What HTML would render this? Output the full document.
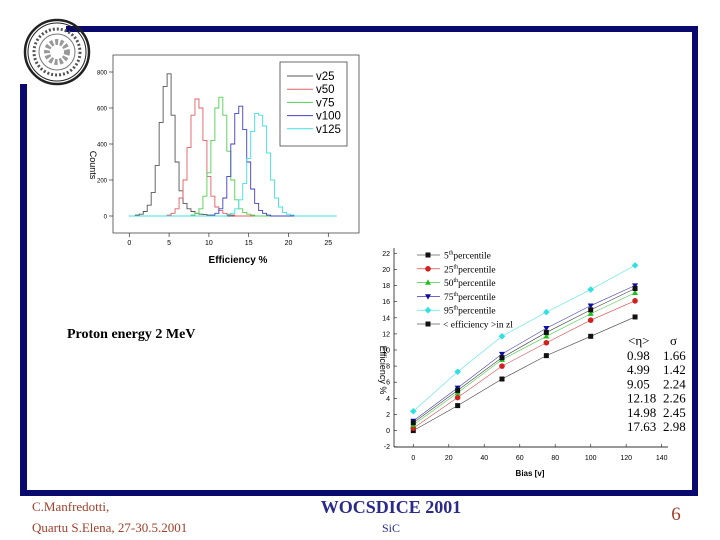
<!DOCTYPE html>
<html><head><meta charset="utf-8"><style>
body{margin:0;background:#fff;}
svg{display:block;font-family:"Liberation Sans",sans-serif;}
.serif{font-family:"Liberation Serif",serif;}
</style></head><body>
<svg id="s" width="720" height="540" viewBox="0 0 720 540">
<g fill="#0a0a6e">
<rect x="66" y="26" width="632" height="6"/>
<rect x="692" y="26" width="6" height="470"/>
<rect x="20" y="490" width="678" height="6"/>
<rect x="20" y="84" width="7" height="412"/>
</g>
<g fill="none" stroke="#222">
<circle cx="57" cy="52" r="32" stroke-width="2.5"/>
<circle cx="57" cy="52" r="29" stroke-width="1"/>
<circle cx="57" cy="52" r="23" stroke-width="3" stroke-dasharray="2 2" stroke="#555"/>
<circle cx="57" cy="52" r="18" stroke-width="1" stroke="#777"/>
<circle cx="57" cy="52" r="10" stroke-width="6" stroke="#999" stroke-dasharray="3 2"/>
</g>
<g id="hist"></g>
<g id="perc"></g>
<text x="67" y="338" class="serif" font-size="14" font-weight="bold">Proton energy 2 MeV</text>
<g class="serif">
<text x="32" y="511" font-size="13" fill="#a0402a">C.Manfredotti,</text>
<text x="32" y="532" font-size="13" fill="#a0402a">Quartu S.Elena, 27-30.5.2001</text>
<text x="391" y="513" font-size="18" font-weight="bold" fill="#2a2a8a" text-anchor="middle">WOCSDICE 2001</text>
<text x="391" y="532" font-size="12" fill="#2a2a8a" text-anchor="middle">SiC</text>
<text x="676" y="520" font-size="19" fill="#a0402a" text-anchor="middle">6</text>
</g>
</svg>
<script>
const NS="http://www.w3.org/2000/svg";
function mk(p,t,a){const e=document.createElementNS(NS,t);for(const k in a)e.setAttribute(k,a[k]);p.appendChild(e);return e;}

// ---- Histogram chart data ----
const histNames=["v25","v50","v75","v100","v125"];
const histColors=["#555","#e06060","#50d050","#4040c0","#40e0e0"];
const histStart=[0.75,4.75,7.75,10.25,12.25];
const histV25=[5,10,25,60,130,280,520,720,790,560,300,140,70,40,25,15,10,8,5,3];
const histV50=[5,15,40,100,200,380,560,650,600,420,220,110,50,30,15,10,5];
const histV75=[5,15,40,110,240,420,600,660,560,360,200,90,40,20,10,5];
const histV100=[5,15,40,100,220,400,570,610,480,300,150,70,30,15,5];
const histV125=[5,15,40,90,180,320,470,570,560,500,350,200,100,50,20,10,5];
const histXTicks=[0,5,10,15,20,25];
const histYTicks=[0,200,400,600,800];
const histBin=0.5;

(function(){
const g=document.getElementById('hist');
const X=v=>129.3+v*7.96, Y=v=>216-v*0.18;
const bx=113,by=55,bw=246,bh=178;
let r=mk(g,'rect',{x:bx,y:by,width:bw,height:bh,fill:'none',stroke:'#444','stroke-width':0.8});

histXTicks.forEach(t=>{mk(g,'line',{x1:X(t),x2:X(t),y1:by+bh,y2:by+bh+4,stroke:'#333','stroke-width':0.7});
 const tx=mk(g,'text',{x:X(t),y:by+bh+12,'font-size':7,'text-anchor':'middle'});tx.textContent=t;
 });
histYTicks.forEach(t=>{mk(g,'line',{x1:bx-4,x2:bx,y1:Y(t),y2:Y(t),stroke:'#333','stroke-width':0.7});
 const tx=mk(g,'text',{x:bx-6,y:Y(t)+2.5,'font-size':6,'text-anchor':'end'});tx.textContent=t;
 });
const series=[histV25,histV50,histV75,histV100,histV125];
series.forEach((arr,i)=>{
 let d='M'+X(0)+','+Y(0)+' L'+X(histStart[i])+','+Y(0);
 arr.forEach((c,j)=>{const x0=histStart[i]+j*histBin;d+=' L'+X(x0)+','+Y(c)+' L'+X(x0+histBin)+','+Y(c);});
 d+=' L'+X(histStart[i]+arr.length*histBin)+','+Y(0)+' L'+X(26)+','+Y(0);
 const p=mk(g,'path',{d:d,fill:'none',stroke:histColors[i],'stroke-width':0.9});
 
});
const lg=mk(g,'g',{});
mk(lg,'rect',{x:280,y:62,width:67,height:84,fill:'#fff',stroke:'#444','stroke-width':0.8});
histNames.forEach((n,i)=>{const y=76+i*13.2;
 mk(lg,'line',{x1:287,x2:313,y1:y,y2:y,stroke:histColors[i],'stroke-width':1});
 const t=mk(lg,'text',{x:316,y:y+4,'font-size':11.5});t.textContent=n;
 });
let t=mk(g,'text',{x:238,y:263,'font-size':10,'font-weight':'bold','text-anchor':'middle'});t.textContent='Efficiency %';

t=mk(g,'text',{x:0,y:0,'font-size':9,transform:'translate(90,165) rotate(90)','text-anchor':'middle'});t.textContent='Counts';

})();

// ---- Percentile chart data ----
const biasValues=[0,25,50,75,100,125];
const p5=[0,3.1,6.4,9.3,11.7,14.1];
const p25=[0.3,4.1,8.0,10.9,13.7,16.1];
const p50=[0.7,4.7,8.8,11.7,14.5,17.1];
const p75=[1.2,5.3,9.5,12.7,15.5,18.0];
const p95=[2.4,7.3,11.7,14.7,17.5,20.5];
const pMean=[0.98,4.99,9.05,12.18,14.98,17.63];
const pSigma=["1.66","1.42","2.24","2.26","2.45","2.98"];
const pMeanLabels=["0.98","4.99","9.05","12.18","14.98","17.63"];
const percXTicks=[0,20,40,60,80,100,120,140];
const percYTicks=[-2,0,2,4,6,8,10,12,14,16,18,20,22];
const percLabels=["5","25","50","75","95"];

(function(){
const g=document.getElementById('perc');
const X=v=>413.3+v*1.774, Y=v=>430.6-v*8.06;
const bx=394,by=248,bw=274,bh=199;
mk(g,'line',{x1:bx,x2:bx,y1:by,y2:by+bh,stroke:'#333','stroke-width':0.9});
mk(g,'line',{x1:bx,x2:bx+bw,y1:by+bh,y2:by+bh,stroke:'#333','stroke-width':0.9});
percXTicks.forEach(t=>{mk(g,'line',{x1:X(t),x2:X(t),y1:by+bh,y2:by+bh-3,stroke:'#333','stroke-width':0.7});
 const tx=mk(g,'text',{x:X(t),y:by+bh+13,'font-size':7,'text-anchor':'middle'});tx.textContent=t;
 });
percYTicks.forEach(t=>{mk(g,'line',{x1:bx,x2:bx+3,y1:Y(t),y2:Y(t),stroke:'#333','stroke-width':0.7});
 const tx=mk(g,'text',{x:bx-4,y:Y(t)+2.5,'font-size':7,'text-anchor':'end'});tx.textContent=t;
 });
const series=[p5,p25,p50,p75,p95,pMean];
const cols=['#111','#d02020','#20c020','#1010a0','#30e0e0','#111'];
const shapes=['sq','ci','tr','itr','di','sq'];
function marker(p,s,x,y,c){
 if(s==='sq')return mk(p,'rect',{x:x-2.5,y:y-2.5,width:5,height:5,fill:c});
 if(s==='ci')return mk(p,'circle',{cx:x,cy:y,r:2.8,fill:c});
 if(s==='tr')return mk(p,'path',{d:`M${x},${y-3.2}L${x+3},${y+2.2}L${x-3},${y+2.2}Z`,fill:c});
 if(s==='itr')return mk(p,'path',{d:`M${x},${y+3.2}L${x+3},${y-2.2}L${x-3},${y-2.2}Z`,fill:c});
 return mk(p,'path',{d:`M${x},${y-3.3}L${x+3.3},${y}L${x},${y+3.3}L${x-3.3},${y}Z`,fill:c});
}
series.forEach((arr,i)=>{
 const sg=mk(g,'g',{});
 mk(sg,'polyline',{points:arr.map((v,j)=>X(biasValues[j])+','+Y(v)).join(' '),fill:'none',stroke:cols[i],'stroke-width':0.6,opacity:0.8});
 arr.forEach((v,j)=>{const m=marker(sg,shapes[i],X(biasValues[j]),Y(v),cols[i]);
  });
});
const lg=mk(g,'g',{class:'serif'});
const labs=percLabels.map(p=>[p,'th','percentile']).concat([['< efficiency >in zl','','']]);
labs.forEach((l,i)=>{const y=255+i*13.8;
 mk(lg,'line',{x1:417,x2:440,y1:y,y2:y,stroke:cols[i],'stroke-width':0.6});
 marker(lg,shapes[i],428,y,cols[i]);
 const t=mk(lg,'text',{x:i<5?444:443,y:y+3.5,'font-size':9.5});
 
 if(l[1]){t.appendChild(document.createTextNode(l[0]));const s=mk(t,'tspan',{'font-size':6,dy:-4});s.textContent=l[1];
  const s2=mk(t,'tspan',{dy:4});s2.textContent=l[2];}else t.textContent=l[0];
});
let t=mk(g,'text',{x:530,y:476,'font-size':8,'font-weight':'bold','text-anchor':'middle'});t.textContent='Bias [v]';

t=mk(g,'text',{x:0,y:0,'font-size':9,transform:'translate(380,370) rotate(90)','text-anchor':'middle'});t.textContent='Efficiency %';

const tb=mk(g,'g',{class:'serif','font-size':13});
t=mk(tb,'text',{x:628,y:345});t.textContent='<η>';

t=mk(tb,'text',{x:670,y:345});t.textContent='σ';

pMeanLabels.forEach((m,i)=>{const y=360+i*14.2;
 let a=mk(tb,'text',{x:627,y:y});a.textContent=m;
 a=mk(tb,'text',{x:663,y:y});a.textContent=pSigma[i];});
})();
</script>
</body></html>
